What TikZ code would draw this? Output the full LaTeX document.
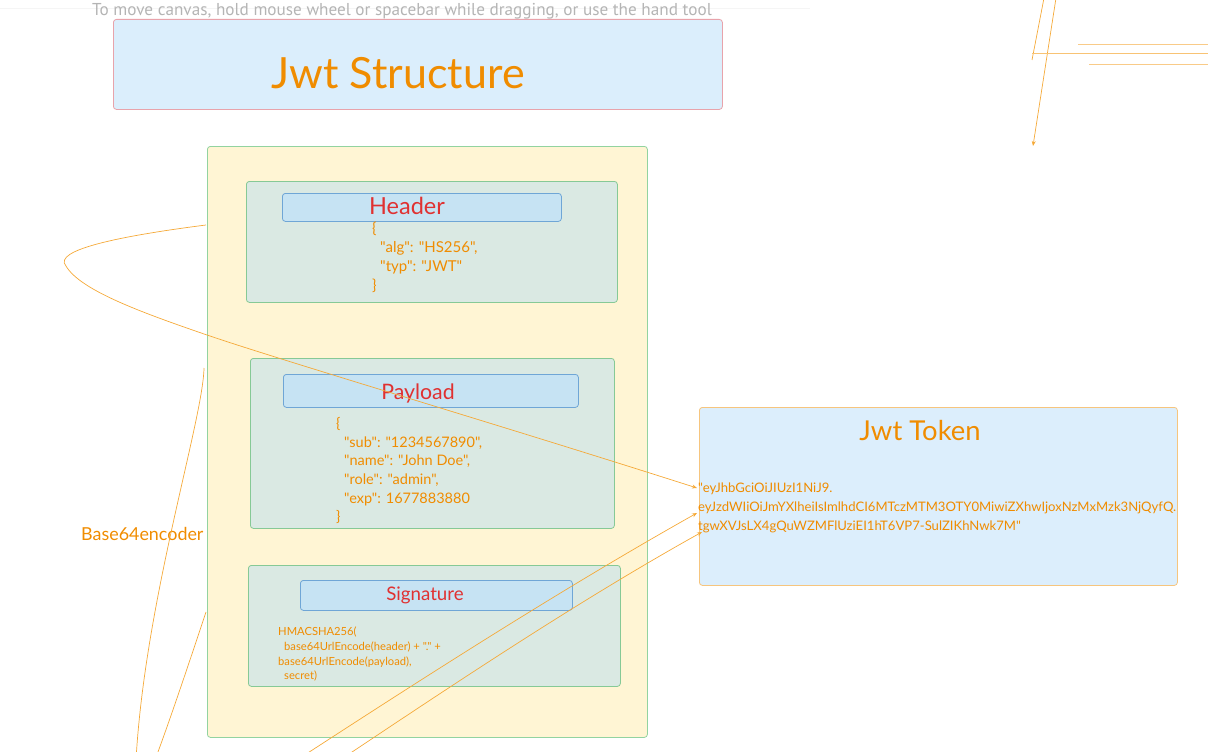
\documentclass[tikz,border=0pt]{standalone}
\usepackage{fontspec}
\setmainfont{Lato}[Ligatures=TeXOff]
\newfontfamily\hintfont{PT Sans}
\usetikzlibrary{arrows.meta}
\definecolor{hintgrey}{HTML}{B4B4B4}
\definecolor{titlefill}{HTML}{DBEEFC}
\definecolor{titleborder}{HTML}{E8A3AB}
\definecolor{outerfill}{HTML}{FFF5D4}
\definecolor{outerborder}{HTML}{92D3A0}
\definecolor{innerfill}{HTML}{DAE9E3}
\definecolor{innerborder}{HTML}{86C996}
\definecolor{barfill}{HTML}{C6E3F3}
\definecolor{barborder}{HTML}{6FA6D6}
\definecolor{redtext}{HTML}{E03131}
\definecolor{orangetext}{HTML}{F08C00}
\definecolor{tokenfill}{HTML}{DCEEFC}
\definecolor{tokenborder}{HTML}{F6C57E}
\definecolor{wire}{HTML}{F5A938}
\tikzset{
  box/.style={rounded corners=3pt, line width=0.8pt, inner sep=0pt, anchor=north west},
  titlebox/.style={box, draw=titleborder, fill=titlefill},
  outerbox/.style={box, draw=outerborder, fill=outerfill},
  innerbox/.style={box, draw=innerborder, fill=innerfill},
  barbox/.style={box, draw=barborder, fill=barfill},
  tokenbox/.style={box, draw=tokenborder, fill=tokenfill},
  redlabel/.style={text=redtext, inner sep=0pt},
  code/.style={text=orangetext, inner sep=0pt, align=left, anchor=north west},
  wireline/.style={draw=wire, line width=0.7pt},
  tip/.style={-{Stealth[length=5pt,width=4pt]}},
}
\begin{document}
\begin{tikzpicture}[x=1pt,y=-1pt]
\useasboundingbox (0,0) rectangle (1208,752);
\begin{scope}
\clip (0,0) rectangle (1208,752);
% hint
\draw[black!4, line width=0.8pt] (0,8) -- (810,8);
\node[text=hintgrey, font=\hintfont\fontsize{17.2}{19}\selectfont, inner sep=0pt] (hint) at (402,11) {To move canvas, hold mouse wheel or spacebar while dragging, or use the hand tool};
% title
\node[titlebox, minimum width=609pt, minimum height=90pt] (titlebox) at (113,19) {};
\node[text=orangetext, font=\fontsize{43}{46}\selectfont, inner sep=0pt] (title) at (398,73) {Jwt Structure};
% outer
\node[outerbox, minimum width=440pt, minimum height=591pt] (outer) at (207,146) {};
% header
\node[innerbox, minimum width=371pt, minimum height=121pt] (hbox) at (246,181) {};
\node[barbox, minimum width=279pt, minimum height=28pt] (hbar) at (282,193) {};
\node[redlabel, font=\fontsize{23.5}{26}\selectfont] (hlabel) at (407,206) {Header};
\node[code, font=\fontsize{15}{19}\selectfont] (htext) at (372,222) {\{\\\hspace*{8pt}"alg": "HS256",\\\hspace*{8pt}"typ": "JWT"\\\}};
% payload
\node[innerbox, minimum width=364pt, minimum height=170pt] (pbox) at (250,358) {};
\node[barbox, minimum width=295pt, minimum height=33pt] (pbar) at (283,374) {};
\node[redlabel, font=\fontsize{21.3}{24}\selectfont] (plabel) at (418,393) {Payload};
\node[code, font=\fontsize{14.5}{18.7}\selectfont] (ptext) at (336,417) {\{\\\hspace*{8pt}"sub": "1234567890",\\\hspace*{8pt}"name": "John Doe",\\\hspace*{8pt}"role": "admin",\\\hspace*{8pt}"exp": 1677883880\\\}};
% signature
\node[innerbox, minimum width=372pt, minimum height=121pt] (sbox) at (248,565) {};
\node[barbox, minimum width=272pt, minimum height=30pt] (sbar) at (300,580) {};
\node[redlabel, font=\fontsize{18.7}{21}\selectfont] (slabel) at (425,595) {Signature};
\node[code, font=\fontsize{11.2}{14.7}\selectfont] (stext) at (278,627) {HMACSHA256(\\\hspace*{6pt}base64UrlEncode(header) + "." +\\base64UrlEncode(payload),\\\hspace*{6pt}secret)};
% token
\node[tokenbox, minimum width=478pt, minimum height=178pt] (tbox) at (699,407) {};
\node[text=orangetext, font=\fontsize{27.4}{30}\selectfont, inner sep=0pt] (tlabel) at (920,431) {Jwt Token};
\node[code, font=\fontsize{13.1}{18.7}\selectfont] (ttext) at (698,483) {"eyJhbGciOiJIUzI1NiJ9.\\eyJzdWIiOiJmYXlheiIsImlhdCI6MTczMTM3OTY0MiwiZXhwIjoxNzMxMzk3NjQyfQ.\\tgwXVJsLX4gQuWZMFlUziEI1hT6VP7-SulZIKhNwk7M"};
% base64 label
\node[text=orangetext, font=\fontsize{17.9}{20}\selectfont, inner sep=0pt, anchor=west] (b64) at (81,534) {Base64encoder};
% connectors
\coordinate (a1s) at (206,225);
\coordinate (a1e) at (697,488);
\coordinate (a2s) at (297,760);
\coordinate (a2e) at (697,513);
\coordinate (a3s) at (340,760);
\coordinate (a3e) at (702,532);
\coordinate (l1s) at (204,368);
\coordinate (l1e) at (136,760);
\coordinate (l2s) at (206,612);
\coordinate (l2e) at (155,760);
\draw[wireline, tip] (a1s) .. controls (120,236) and (52,250) .. (66,266) .. controls (80,290) and (140,312) .. (207,335) .. controls (280,360) and (500,425) .. (a1e);
\draw[wireline, tip] (a2s) .. controls (420,680) and (560,590) .. (a2e);
\draw[wireline, tip] (a3s) .. controls (460,680) and (580,600) .. (a3e);
\draw[wireline] (l1s) .. controls (203,420) and (145,600) .. (l1e);
\draw[wireline] (l2s) .. controls (190,660) and (170,720) .. (l2e);
% top right
\coordinate (r1s) at (1044,-2);
\coordinate (r1e) at (1032,60);
\coordinate (r2s) at (1056,-2);
\coordinate (r2e) at (1033,146);
\coordinate (h1s) at (1032,53);
\coordinate (h1e) at (1210,53);
\coordinate (h2s) at (1078,44);
\coordinate (h2e) at (1210,44);
\coordinate (h3s) at (1089,64);
\coordinate (h3e) at (1210,64);
\draw[wireline] (r1s) -- (r1e);
\draw[wireline, tip] (r2s) -- (r2e);
\draw[wireline, draw=wire!70] (h1s) -- (h1e);
\draw[wireline, draw=wire!60] (h2s) -- (h2e);
\draw[wireline, draw=wire!60] (h3s) -- (h3e);
\end{scope}
\end{tikzpicture}
\end{document}
